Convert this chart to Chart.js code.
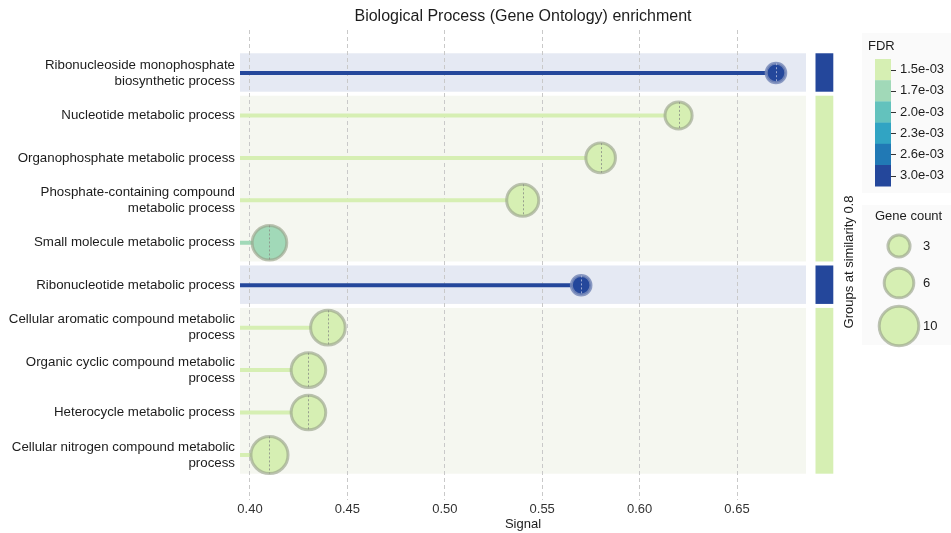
<!DOCTYPE html>
<html>
<head>
<meta charset="utf-8">
<script src="https://cdn.jsdelivr.net/npm/chart.js@4/dist/chart.umd.min.js"></script>
<style>
  html, body { margin: 0; padding: 0; background: #ffffff; }
  canvas { display: block; }
</style>
</head>
<body>
<canvas id="chart" width="951" height="533"></canvas>
<script>
// GO biological process terms, top to bottom
const terms = [
  ['Ribonucleoside monophosphate', 'biosynthetic process'],
  ['Nucleotide metabolic process'],
  ['Organophosphate metabolic process'],
  ['Phosphate-containing compound', 'metabolic process'],
  ['Small molecule metabolic process'],
  ['Ribonucleotide metabolic process'],
  ['Cellular aromatic compound metabolic', 'process'],
  ['Organic cyclic compound metabolic', 'process'],
  ['Heterocycle metabolic process'],
  ['Cellular nitrogen compound metabolic', 'process']
];
const signal    = [0.67, 0.62, 0.58, 0.54, 0.41, 0.57, 0.44, 0.43, 0.43, 0.41];
const fdr       = [0.0030, 0.0015, 0.0015, 0.0015, 0.0017, 0.0030, 0.0015, 0.0015, 0.0015, 0.0015];
const geneCount = [2, 5, 6, 7, 8, 2, 8, 8, 8, 9];
const groupId   = [1, 2, 2, 2, 2, 3, 4, 4, 4, 4];

const xTicks = [0.40, 0.45, 0.50, 0.55, 0.60, 0.65];
const fdrSteps = [0.0015, 0.0017, 0.0020, 0.0023, 0.0026, 0.0030];
const fdrStepLabels = ['1.5e-03', '1.7e-03', '2.0e-03', '2.3e-03', '2.6e-03', '3.0e-03'];
const fdrPalette = ['#d6efb3', '#a1d9b8', '#63c2bd', '#31a4c3', '#2179b5', '#24479b'];
const countLegend = [3, 6, 10];

const FONT = '"Liberation Sans", Arial, Helvetica, sans-serif';
const TEXT = '#1c1c1c';

function fdrColor(v) {
  let best = 0;
  fdrSteps.forEach((s, i) => { if (Math.abs(s - v) < Math.abs(fdrSteps[best] - v)) best = i; });
  return fdrPalette[best];
}
function isDark(v) { return fdrColor(v) === fdrPalette[5] || fdrColor(v) === fdrPalette[4]; }
function bubbleRadius(count) { return 7.3 + 1.25 * count; }
const EDGE_LIGHT = 'rgba(150,160,135,0.62)';
const EDGE_DARK = 'rgba(120,138,185,0.85)';

// contiguous runs of rows that share a similarity group
const groups = [];
groupId.forEach((g, i) => {
  const last = groups[groups.length - 1];
  if (last && last.id === g) { last.end = i; last.fdr = Math.min(last.fdr, fdr[i]); }
  else groups.push({ id: g, start: i, end: i, fdr: fdr[i] });
});

const decor = {
  id: 'decor',
  beforeDraw(chart) {
    const { ctx, chartArea: ca, scales: { y } } = chart;
    ctx.save();
    groups.forEach(g => {
      const top = y.getPixelForValue(g.start - 0.5) + 1.5;
      const bot = y.getPixelForValue(g.end + 0.5) - 2.5;
      const col = fdrColor(g.fdr);
      ctx.fillStyle = isDark(g.fdr) ? '#e5e9f3' : '#f5f7f0';
      ctx.fillRect(ca.left, top, ca.right - ca.left, bot - top);
      ctx.fillStyle = col;
      ctx.fillRect(ca.right + 9.5, top, 17.8, bot - top);
    });
    ctx.restore();
  },
  beforeDatasetsDraw(chart) {
    const { ctx, chartArea: ca, scales: { x, y } } = chart;
    ctx.save();
    ctx.lineWidth = 4;
    ctx.lineCap = 'butt';
    signal.forEach((s, i) => {
      const py = y.getPixelForValue(i);
      ctx.strokeStyle = fdrColor(fdr[i]);
      ctx.beginPath();
      ctx.moveTo(ca.left, py);
      ctx.lineTo(x.getPixelForValue(s), py);
      ctx.stroke();
    });
    ctx.restore();
  },
  afterDatasetsDraw(chart) {
    const { ctx } = chart;
    const meta = chart.getDatasetMeta(0);
    ctx.save();
    ctx.lineWidth = 1;
    ctx.setLineDash([2, 2]);
    meta.data.forEach((pt, i) => {
      const r = bubbleRadius(geneCount[i]);
      const px = Math.round(pt.x) + 0.5;
      ctx.strokeStyle = isDark(fdr[i]) ? 'rgba(170,180,215,0.9)' : 'rgba(140,145,135,0.85)';
      ctx.beginPath();
      ctx.moveTo(px, pt.y - r);
      ctx.lineTo(px, pt.y + r);
      ctx.stroke();
    });
    ctx.restore();
  },
  afterDraw(chart) {
    const { ctx, chartArea: ca } = chart;
    ctx.save();
    // title
    ctx.fillStyle = TEXT;
    ctx.font = '16px ' + FONT;
    ctx.textAlign = 'center';
    ctx.textBaseline = 'middle';
    ctx.fillText('Biological Process (Gene Ontology) enrichment', (ca.left + ca.right) / 2, 17);

    // group strip caption
    ctx.save();
    ctx.translate(849, 262);
    ctx.rotate(-Math.PI / 2);
    ctx.font = '13px ' + FONT;
    ctx.fillText('Groups at similarity 0.8', 0, 0);
    ctx.restore();

    // FDR colour key
    ctx.fillStyle = '#fafafa';
    ctx.fillRect(862, 33, 89, 160);
    ctx.fillStyle = TEXT;
    ctx.font = '13px ' + FONT;
    ctx.textAlign = 'left';
    ctx.fillText('FDR', 868, 46);
    const barTop = 59, stepH = 21.2;
    fdrPalette.forEach((c, i) => {
      ctx.fillStyle = c;
      ctx.fillRect(875, barTop + i * stepH, 16, stepH + 0.3);
    });
    ctx.strokeStyle = '#333';
    ctx.lineWidth = 1;
    fdrStepLabels.forEach((lab, i) => {
      const cy = barTop + (i + 0.5) * stepH;
      ctx.beginPath();
      ctx.moveTo(891, Math.round(cy) + 0.5);
      ctx.lineTo(896, Math.round(cy) + 0.5);
      ctx.stroke();
      ctx.fillStyle = TEXT;
      ctx.fillText(lab, 900, cy);
    });

    // gene count key
    ctx.fillStyle = '#fafafa';
    ctx.fillRect(862, 205, 89, 140);
    ctx.fillStyle = TEXT;
    ctx.fillText('Gene count', 875, 216);
    const keyY = [246, 283, 326];
    countLegend.forEach((n, i) => {
      ctx.beginPath();
      ctx.arc(899, keyY[i], bubbleRadius(n), 0, Math.PI * 2);
      ctx.fillStyle = fdrPalette[0];
      ctx.fill();
      ctx.lineWidth = 3;
      ctx.strokeStyle = EDGE_LIGHT;
      ctx.stroke();
      ctx.fillStyle = TEXT;
      ctx.fillText(String(n), 923, keyY[i]);
    });
    ctx.restore();
  }
};

Chart.defaults.font.family = FONT;
Chart.defaults.font.size = 13;
Chart.defaults.color = TEXT;

new Chart(document.getElementById('chart'), {
  type: 'bubble',
  data: {
    datasets: [{
      data: signal.map((s, i) => ({ x: s, y: i, r: bubbleRadius(geneCount[i]) })),
      backgroundColor: fdr.map(fdrColor),
      borderColor: fdr.map(v => isDark(v) ? EDGE_DARK : EDGE_LIGHT),
      borderWidth: 3
    }]
  },
  options: {
    responsive: false,
    devicePixelRatio: 1,
    animation: false,
    events: [],
    layout: { padding: { top: 30, right: 145, left: 0, bottom: 0 } },
    plugins: { legend: { display: false }, tooltip: { enabled: false } },
    scales: {
      x: {
        type: 'linear',
        min: 0.39487,
        max: 0.68542,
        afterBuildTicks: s => { s.ticks = xTicks.map(v => ({ value: v })); },
        afterFit: s => { s.height = 33; },
        ticks: { padding: 2, color: '#333', callback: v => Number(v).toFixed(2) },
        grid: { color: '#c9c9c9', lineWidth: 1, drawTicks: false },
        border: { display: false, dash: [4, 3] },
        title: { display: true, text: 'Signal', color: TEXT, padding: { top: 0, bottom: 1 } }
      },
      y: {
        type: 'linear',
        reverse: true,
        min: -1.013,
        max: 10.061,
        afterBuildTicks: s => { s.ticks = terms.map((_, i) => ({ value: i })); },
        afterFit: s => { s.width = 240; },
        ticks: { padding: 5, color: TEXT, font: { size: 13.3 }, callback: v => terms[v] },
        grid: { display: false, drawTicks: false },
        border: { display: false }
      }
    }
  },
  plugins: [decor]
});
</script>
</body>
</html>
